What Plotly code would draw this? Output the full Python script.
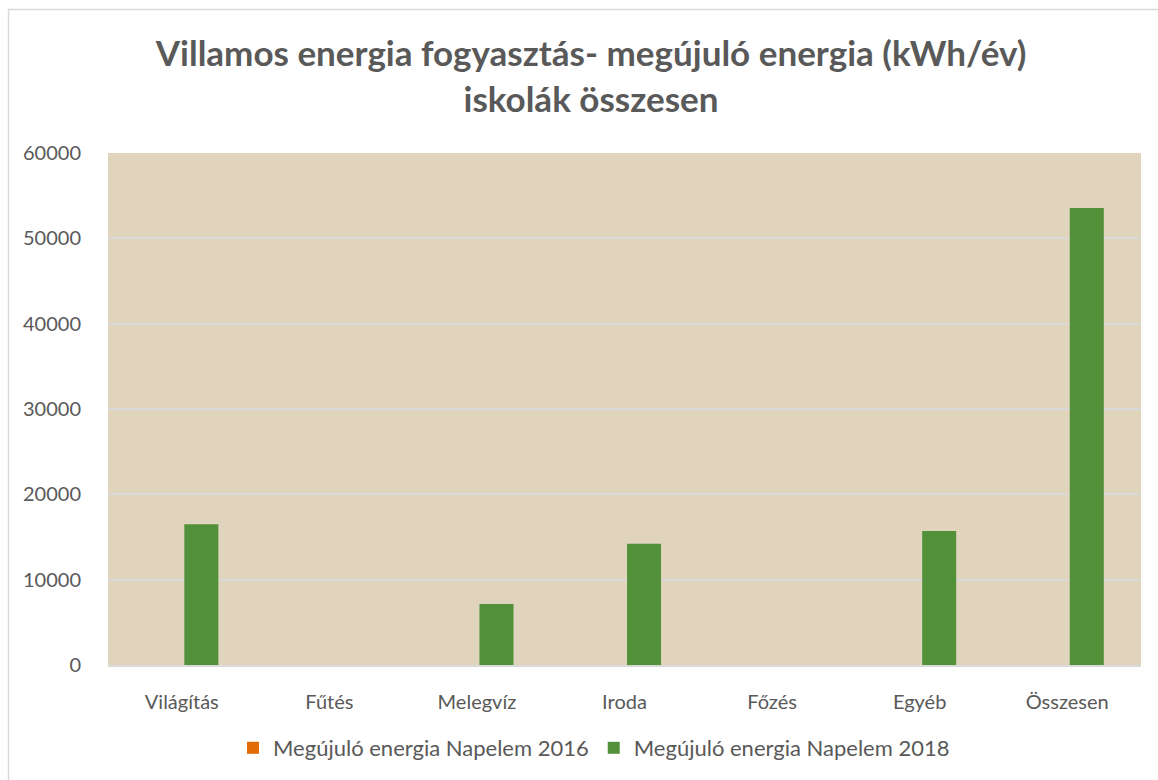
import plotly.graph_objects as go

categories = ["Világítás", "Fűtés", "Melegvíz", "Iroda", "Főzés", "Egyéb", "Összesen"]
napelem_2016 = [0, 0, 0, 0, 0, 0, 0]
napelem_2018 = [16500, 0, 7150, 14200, 0, 15700, 53550]
series_names = ["Megújuló energia Napelem 2016", "Megújuló energia Napelem 2018"]
y_ticks = [0, 10000, 20000, 30000, 40000, 50000, 60000]

W, H = 1158, 780
L, R, T, B = 108, 17, 153, 115
FONT = "Lato, 'Open Sans', sans-serif"
GRAY = "#595959"

fig = go.Figure()
fig.add_trace(go.Bar(x=categories, y=napelem_2016, name=series_names[0],
                     marker=dict(color="#e36c09", line=dict(width=0))))
fig.add_trace(go.Bar(x=categories, y=napelem_2018, name=series_names[1],
                     marker=dict(color="#53903a", line=dict(width=0))))

pw = W - L - R
ph = H - T - B
fig.add_shape(type="rect", xref="paper", yref="paper",
              x0=(8.5 - L) / pw, x1=(W + 5 - L) / pw,
              y0=(H - B - (H + 5)) / ph, y1=(H - B - 9.5) / ph,
              line=dict(color="#d9d9d9", width=1.5), fillcolor="rgba(0,0,0,0)",
              layer="below")

fig.update_layout(
    width=W, height=H,
    margin=dict(l=L, r=R, t=T, b=B, pad=0),
    paper_bgcolor="white",
    plot_bgcolor="#e0d4bd",
    font=dict(family=FONT, size=20, color=GRAY),
    title=dict(
        text="Villamos energia fogyasztás- megújuló energia (kWh/év)<br>iskolák összesen",
        font=dict(family=FONT, size=35, color=GRAY, weight="bold"),
        x=591 / W, xanchor="center", xref="container",
        y=1 - 66 / H, yanchor="top", yref="container",
    ),
    barmode="group",
    bargap=0.47,
    bargroupgap=0.13,
    showlegend=True,
    legend=dict(orientation="h", x=594 / W, xanchor="center", xref="container",
                y=1 - 727 / H, yanchor="top", yref="container",
                font=dict(family=FONT, size=22, color=GRAY),
                itemwidth=30, tracegroupgap=0, bgcolor="rgba(0,0,0,0)"),
    xaxis=dict(
        showgrid=False, showline=True, linecolor="#d9d9d9", linewidth=1.5,
        ticks="outside", ticklen=18, tickcolor="rgba(0,0,0,0)",
        tickfont=dict(family=FONT, size=20, color=GRAY),
    ),
    yaxis=dict(
        range=[0, 60000], tickvals=y_ticks, tickformat="d",
        showgrid=True, gridcolor="#d9d9d9", gridwidth=1.5,
        zeroline=False, showline=False,
        ticks="outside", ticklen=22, tickcolor="rgba(0,0,0,0)",
        tickfont=dict(family=FONT, size=20, color=GRAY),
    ),
)

fig.write_html("out.html")
